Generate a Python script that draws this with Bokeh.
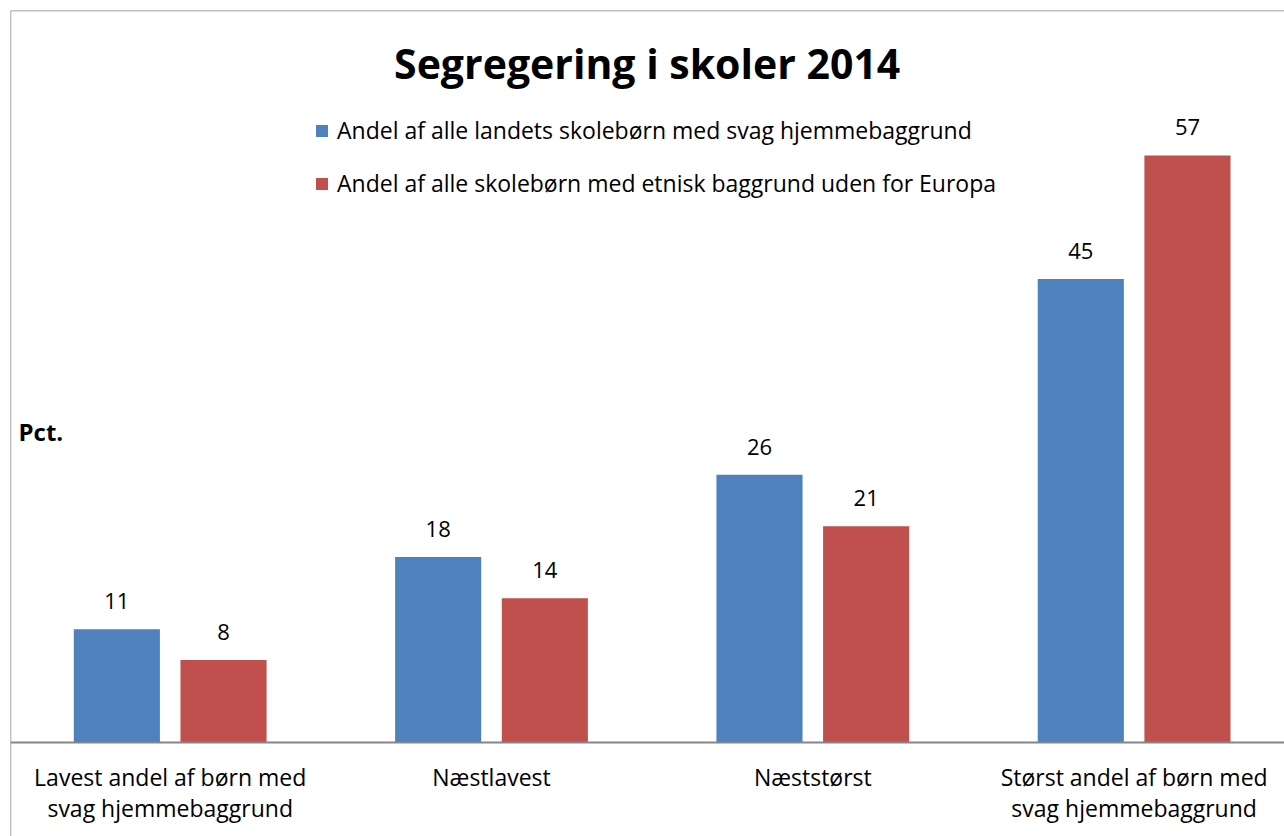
from bokeh.plotting import figure
from bokeh.models import (Range1d, LinearAxis, FixedTicker, Legend, LegendItem,
                          Label, ColumnDataSource, Span)
from bokeh.transform import dodge
from bokeh.embed import file_html
from bokeh.resources import INLINE
from bokeh.core.properties import value

# ---------------- data ----------------
chart_title = "Segregering i  skoler 2014"
y_label = "Pct."
categories = [
    "Lavest andel af børn med\nsvag hjemmebaggrund",
    "Næstlavest",
    "Næststørst",
    "Størst andel af børn med\nsvag hjemmebaggrund",
]
series_names = [
    "Andel af alle landets skolebørn med svag hjemmebaggrund",
    "Andel af alle skolebørn med etnisk baggrund uden for Europa",
]
svag_hjemmebaggrund = [11, 18, 26, 45]
etnisk_baggrund = [8, 14, 21, 57]

# ---------------- style ----------------
FONT = "Open Sans"
BLUE = "#4F81BD"
RED = "#C0504D"
GREY = "#868686"
BORDER = "#888888"

pos = list(range(len(categories)))
src = ColumnDataSource(dict(
    pos=pos,
    svag=svag_hjemmebaggrund,
    etnisk=etnisk_baggrund,
    svag_txt=[str(v) for v in svag_hjemmebaggrund],
    etnisk_txt=[str(v) for v in etnisk_baggrund],
))

x_range = Range1d(-0.497, 3.468)
y_range = Range1d(-9.13, 71.07)
p = figure(width=1284, height=836, output_backend="svg", toolbar_location=None,
           x_range=x_range, y_range=y_range,
           x_axis_type=None, y_axis_type=None,
           min_border_left=10, min_border_right=0, min_border_top=10, min_border_bottom=0)
p.outline_line_color = None
p.background_fill_color = "white"
p.border_fill_color = "white"

# chart border (left and top edges visible in the cropped original)
p.add_layout(Span(location=x_range.start, dimension="height",
                  line_color=BORDER, line_width=1.5))
p.add_layout(Span(location=y_range.end, dimension="width",
                  line_color=BORDER, line_width=1.5))

OFF = 0.166
W = 0.268
r1 = p.vbar(x=dodge("pos", -OFF, range=p.x_range), top="svag", width=W, source=src,
            fill_color=BLUE, line_color=None)
r2 = p.vbar(x=dodge("pos", OFF, range=p.x_range), top="etnisk", width=W, source=src,
            fill_color=RED, line_color=None)

for field, txt, off in (("svag", "svag_txt", -OFF), ("etnisk", "etnisk_txt", OFF)):
    p.text(x=dodge("pos", off, range=p.x_range), y=field, text=txt, source=src,
           text_align="center", text_baseline="alphabetic", y_offset=-28,
           text_font=value(FONT), text_font_size="22px", text_color="black")

xaxis = LinearAxis(fixed_location=0, ticker=FixedTicker(ticks=pos),
                   major_label_overrides={i: c for i, c in enumerate(categories)})
xaxis.axis_line_color = GREY
xaxis.axis_line_width = 2
xaxis.major_tick_line_color = None
xaxis.minor_tick_line_color = None
xaxis.major_tick_out = 0
xaxis.major_tick_in = 0
xaxis.major_label_standoff = 19
xaxis.major_label_text_font = FONT
xaxis.major_label_text_font_size = "23px"
xaxis.major_label_text_line_height = 0.96
xaxis.major_label_text_color = "black"
p.add_layout(xaxis, "below")

legend = Legend(items=[LegendItem(label=series_names[0], renderers=[r1]),
                       LegendItem(label=series_names[1], renderers=[r2])],
                location=(304, 637), orientation="vertical", padding=0, margin=0,
                spacing=21, glyph_width=15, glyph_height=15, label_height=31,
                label_standoff=8, border_line_color=None, background_fill_alpha=0,
                label_text_font=FONT, label_text_font_size="23px",
                label_text_color="black")
p.add_layout(legend)

p.add_layout(Label(x=642, y=774, x_units="screen", y_units="screen", text=chart_title,
                   text_align="center", text_baseline="alphabetic", text_font=FONT,
                   text_font_style="bold", text_font_size="41px", text_color="black"))
p.add_layout(Label(x=8, y=405, x_units="screen", y_units="screen", text=y_label,
                   text_align="left", text_baseline="alphabetic", text_font=FONT,
                   text_font_style="bold", text_font_size="24px", text_color="black"))

open("out.html", "w").write(file_html(p, INLINE))
